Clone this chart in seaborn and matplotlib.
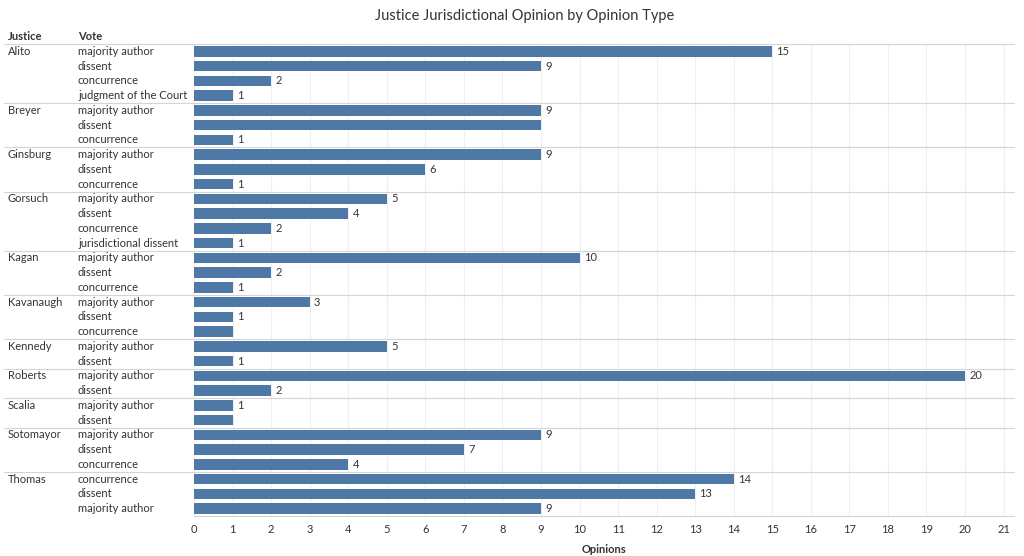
import numpy as np
import pandas as pd
import matplotlib
matplotlib.use("Agg")
import matplotlib.pyplot as plt
import matplotlib.transforms as mtransforms
import seaborn as sns

# data
justices = ["Alito", "Breyer", "Ginsburg", "Gorsuch", "Kagan", "Kavanaugh",
            "Kennedy", "Roberts", "Scalia", "Sotomayor", "Thomas"]
votes = [
    ["majority author", "dissent", "concurrence", "judgment of the Court"],
    ["majority author", "dissent", "concurrence"],
    ["majority author", "dissent", "concurrence"],
    ["majority author", "dissent", "concurrence", "jurisdictional dissent"],
    ["majority author", "dissent", "concurrence"],
    ["majority author", "dissent", "concurrence"],
    ["majority author", "dissent"],
    ["majority author", "dissent"],
    ["majority author", "dissent"],
    ["majority author", "dissent", "concurrence"],
    ["concurrence", "dissent", "majority author"],
]
opinions = [
    [15, 9, 2, 1],
    [9, 9, 1],
    [9, 6, 1],
    [5, 4, 2, 1],
    [10, 2, 1],
    [3, 1, 1],
    [5, 1],
    [20, 2],
    [1, 1],
    [9, 7, 4],
    [14, 13, 9],
]
# labels Tableau dropped because of overlap
no_label = [("Breyer", "dissent"), ("Kavanaugh", "concurrence"), ("Scalia", "dissent")]

rows = []
for j, vs, ops in zip(justices, votes, opinions):
    for v, o in zip(vs, ops):
        rows.append({"justice": j, "vote": v, "opinions": o, "row": j + "|" + v})
df = pd.DataFrame(rows)

sns.set_style("white")
plt.rcParams["font.family"] = ["Lato", "DejaVu Sans"]
txt = "#333333"
bar_col = "#4e79a7"
sep_col = "#d4d4d4"
fs = 8

fig = plt.figure(figsize=(10.24, 5.56), dpi=100)
W, H = 1024, 556
ax = fig.add_axes([194 / W, 1 - 516 / H, (1014 - 194) / W, (516 - 44) / H])

sns.barplot(data=df, x="opinions", y="row", orient="h", color=bar_col,
            width=0.72, saturation=1, linewidth=0, ax=ax, order=list(df["row"]))

ax.set_xlim(0, 21.27)
ax.set_ylim(len(df) - 0.5, -0.5)
ax.set_xticks(range(0, 22))
ax.tick_params(axis="x", length=0, labelsize=fs, labelcolor=txt, pad=6)
ax.set_yticks([])
ax.set_ylabel("")
ax.set_xlabel("Opinions", fontsize=fs, fontweight="bold", color=txt, labelpad=6)
for s in ["top", "right", "left"]:
    ax.spines[s].set_visible(False)
ax.spines["bottom"].set_color(sep_col)
ax.grid(axis="x", color="#efefef", linewidth=0.8)
ax.set_axisbelow(True)

# value labels
for i, r in df.iterrows():
    if (r["justice"], r["vote"]) in no_label:
        continue
    ax.annotate(str(r["opinions"]), (r["opinions"], i), xytext=(3, 0),
                textcoords="offset points", va="center", ha="left",
                fontsize=fs, color=txt)

# row headers (left panes)
trans = mtransforms.blended_transform_factory(fig.transFigure, ax.transData)
start = 0
for j, vs in zip(justices, votes):
    ax.text(8 / W, start, j, transform=trans, fontsize=fs, color=txt,
            va="center", ha="left")
    for k, v in enumerate(vs):
        ax.text(78 / W, start + k, v, transform=trans, fontsize=fs, color=txt,
                va="center", ha="left")
    if start > 0:
        ax.plot([4 / W, 1014 / W], [start - 0.5, start - 0.5], transform=trans,
                color=sep_col, linewidth=0.8, clip_on=False)
    start += len(vs)

# header row
ax.plot([4 / W, 1014 / W], [-0.5, -0.5], transform=trans, color=sep_col,
        linewidth=0.8, clip_on=False)
fig.text(8 / W, 1 - 37 / H, "Justice", fontsize=fs, fontweight="bold",
         color=txt, va="center")
fig.text(78 / W, 1 - 37 / H, "Vote", fontsize=fs, fontweight="bold",
         color=txt, va="center")

fig.text(525 / W, 1 - 16 / H, "Justice Jurisdictional Opinion by Opinion Type",
         fontsize=10.5, color=txt, ha="center", va="center")

fig.savefig("out.png", dpi=100)
